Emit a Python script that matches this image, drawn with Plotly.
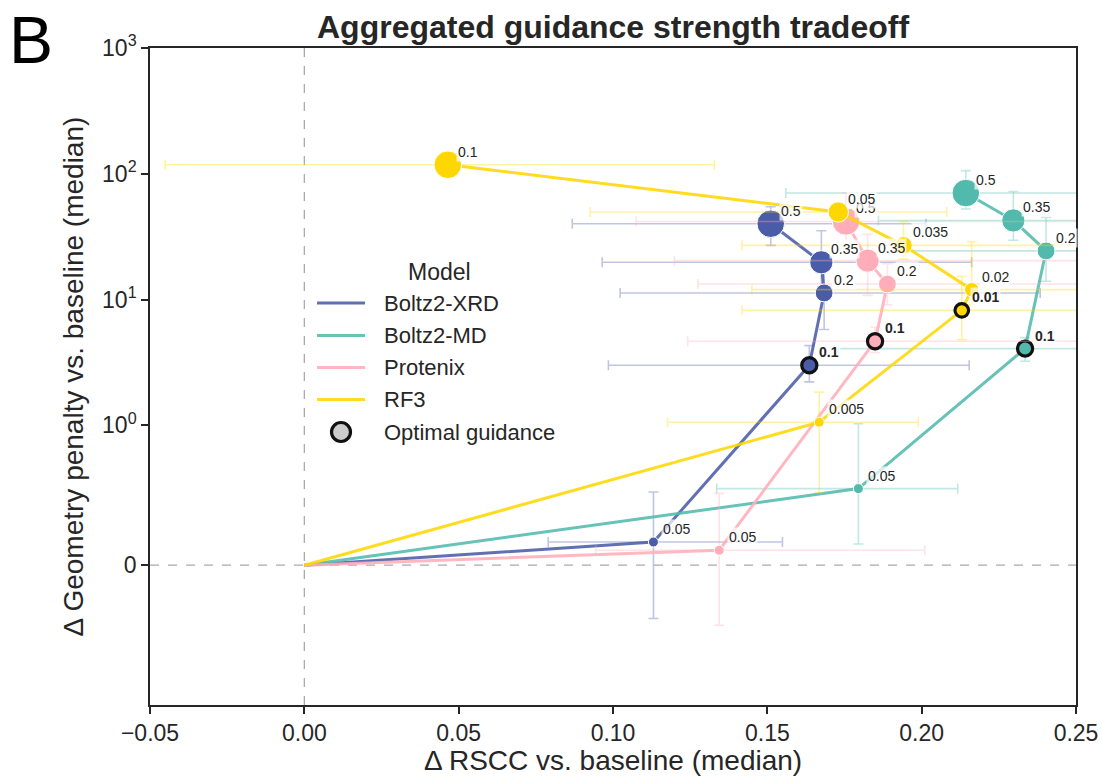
import numpy as np
import plotly.graph_objects as go

# ---------------- data ----------------
models = ["Boltz2-XRD", "Boltz2-MD", "Protenix", "RF3"]

xrd_strength = [0.05, 0.1, 0.2, 0.35, 0.5]
xrd_rscc = [0.1131, 0.1636, 0.1684, 0.1675, 0.1511]
xrd_rscc_lo = [0.0790, 0.0985, 0.1023, 0.0965, 0.0868]
xrd_rscc_hi = [0.1549, 0.2154, 0.2384, 0.2162, 0.2014]
xrd_geom = [0.166, 3.01, 11.3, 19.8, 40.1]
xrd_geom_lo = [-0.381, 2.22, 5.78, 12.0, 27.0]
xrd_geom_hi = [0.524, 4.31, 20.0, 35.3, 54.7]
xrd_optimal = 0.1

md_strength = [0.05, 0.1, 0.2, 0.35, 0.5]
md_rscc = [0.1795, 0.2335, 0.2403, 0.2297, 0.2143]
md_rscc_lo = [0.1336, 0.1730, 0.1946, 0.1860, 0.1560]
md_rscc_hi = [0.2117, 0.2750, 0.2800, 0.2750, 0.2700]
md_geom = [0.548, 4.08, 24.4, 42.6, 70.3]
md_geom_lo = [0.152, 3.24, 14.0, 29.6, 52.5]
md_geom_hi = [1.03, 4.99, 45.0, 72.4, 106.0]
md_optimal = 0.1

ptx_strength = [0.05, 0.1, 0.2, 0.35, 0.5]
ptx_rscc = [0.1344, 0.1849, 0.1889, 0.1825, 0.1755]
ptx_rscc_lo = [0.0944, 0.1242, 0.1275, 0.1199, 0.1075]
ptx_rscc_hi = [0.2010, 0.2700, 0.2700, 0.2700, 0.2700]
ptx_geom = [0.107, 4.67, 13.3, 20.4, 41.8]
ptx_geom_lo = [-0.429, 3.80, 9.1, 10.8, 24.9]
ptx_geom_hi = [0.514, 6.03, 19.3, 33.0, 70.7]
ptx_optimal = 0.1

rf3_strength = [0.005, 0.01, 0.02, 0.035, 0.05, 0.1]
rf3_rscc = [0.1668, 0.2130, 0.2162, 0.1941, 0.1730, 0.0465]
rf3_rscc_lo = [0.1177, 0.1418, 0.1450, 0.1418, 0.0926, -0.0451]
rf3_rscc_hi = [0.1989, 0.2700, 0.2700, 0.2700, 0.2081, 0.1328]
rf3_geom = [1.06, 8.22, 12.0, 27.0, 49.7, 118.0]
rf3_geom_lo = [0.519, 4.81, 9.1, 21.0, 41.6, 110.0]
rf3_geom_hi = [1.84, 15.3, 28.9, 41.8, 58.9, 126.0]
rf3_optimal = 0.01

x_ticks = [-0.05, 0.0, 0.05, 0.10, 0.15, 0.20, 0.25]
x_ticktext = ["\u22120.05", "0.00", "0.05", "0.10", "0.15", "0.20", "0.25"]
y_ticks = [0, 1, 10, 100, 1000]
y_ticktext = ["0", "10<sup>0</sup>", "10<sup>1</sup>", "10<sup>2</sup>", "10<sup>3</sup>"]

# ---------------- styling ----------------
colors = {
    "Boltz2-XRD": (74, 92, 168),
    "Boltz2-MD": (82, 185, 173),
    "Protenix": (255, 174, 185),
    "RF3": (255, 215, 0),
}
FONT = "Liberation Sans, Arial, Helvetica, sans-serif"
TXT = "#262626"

W, H = 1102, 778
L, R, T, B = 150, 1076, 48, 705   # plot area in pixels


def symlog(v):
    v = np.asarray(v, dtype=float)
    c = 1.0 / (1.0 - 0.1)
    a = np.abs(v)
    return np.where(a <= 1.0, v * c, np.sign(v) * (c + np.log10(np.maximum(a, 1e-12))))


def px(xp):
    return (xp - L) / (R - L)


def py(yp):
    return (B - yp) / (B - T)


def rgba(c, a):
    return "rgba(%d,%d,%d,%.3f)" % (c[0], c[1], c[2], a)


fig = go.Figure()

series = [
    ("Boltz2-XRD", xrd_strength, xrd_rscc, xrd_rscc_lo, xrd_rscc_hi, xrd_geom, xrd_geom_lo, xrd_geom_hi, xrd_optimal),
    ("Boltz2-MD", md_strength, md_rscc, md_rscc_lo, md_rscc_hi, md_geom, md_geom_lo, md_geom_hi, md_optimal),
    ("Protenix", ptx_strength, ptx_rscc, ptx_rscc_lo, ptx_rscc_hi, ptx_geom, ptx_geom_lo, ptx_geom_hi, ptx_optimal),
    ("RF3", rf3_strength, rf3_rscc, rf3_rscc_lo, rf3_rscc_hi, rf3_geom, rf3_geom_lo, rf3_geom_hi, rf3_optimal),
]

annotations = []
for name, s, x, xlo, xhi, g, glo, ghi, opt in series:
    c = colors[name]
    s = np.array(s); x = np.array(x); xlo = np.array(xlo); xhi = np.array(xhi)
    ty = symlog(g); tlo = symlog(glo); thi = symlog(ghi)
    # error bars
    fig.add_trace(go.Scatter(
        x=x, y=ty, mode="markers", marker=dict(size=1, opacity=0),
        error_x=dict(type="data", symmetric=False, array=xhi - x, arrayminus=x - xlo,
                     color=rgba(c, 0.35), thickness=1.6, width=5),
        error_y=dict(type="data", symmetric=False, array=thi - ty, arrayminus=ty - tlo,
                     color=rgba(c, 0.35), thickness=1.6, width=5),
        showlegend=False, hoverinfo="skip"))
    # line from origin
    fig.add_trace(go.Scatter(
        x=np.concatenate([[0.0], x]), y=np.concatenate([[0.0], ty]), mode="lines",
        line=dict(color=rgba(c, 0.88), width=3), showlegend=False, hoverinfo="skip"))
    # markers, area scaled with strength within each model
    frac = (s - s.min()) / (s.max() - s.min())
    diam = np.sqrt(100 + frac * (760 - 100))
    is_opt = np.isclose(s, opt)
    fig.add_trace(go.Scatter(
        x=x, y=ty, mode="markers",
        marker=dict(size=np.where(is_opt, diam + 2.0, diam), color=rgba(c, 1.0), opacity=1,
                    line=dict(color=["#111111" if o else "white" for o in is_opt],
                              width=[3.2 if o else 1.0 for o in is_opt])),
        showlegend=False, hoverinfo="skip"))
    for si, xi, yi, o in zip(s, x, ty, is_opt):
        annotations.append(dict(
            x=xi, y=yi, xref="x", yref="y", text=("<b>%s</b>" % str(si)) if o else str(si),
            showarrow=False, xanchor="left", yanchor="middle", xshift=8, yshift=13,
            font=dict(size=14, color=TXT, family=FONT),
            bgcolor="rgba(255,255,255,0.7)", borderpad=1))

# reference lines
shapes = [
    dict(type="line", xref="x", yref="paper", x0=0, x1=0, y0=0, y1=1,
         line=dict(color="#aaaaaa", width=1.3, dash="dash"), layer="below"),
    dict(type="line", xref="paper", yref="y", x0=0, x1=1, y0=0, y1=0,
         line=dict(color="#aaaaaa", width=1.3, dash="dash"), layer="below"),
]

# manual legend
annotations.append(dict(x=px(439), y=py(272), xref="paper", yref="paper", text="Model",
                        showarrow=False, xanchor="center", yanchor="middle",
                        font=dict(size=23, color=TXT, family=FONT)))
leg_y = [303, 335.5, 367.5, 399.5]
for name, yy in zip(models, leg_y):
    shapes.append(dict(type="line", xref="paper", yref="paper", x0=px(317), x1=px(365),
                       y0=py(yy), y1=py(yy), line=dict(color=rgba(colors[name], 0.88), width=3)))
    annotations.append(dict(x=px(382), y=py(yy), xref="paper", yref="paper", text=name,
                            showarrow=False, xanchor="left", yanchor="middle",
                            font=dict(size=22, color=TXT, family=FONT)))
shapes.append(dict(type="circle", xref="paper", yref="paper",
                   x0=px(341 - 9.5), x1=px(341 + 9.5), y0=py(432 + 9.5), y1=py(432 - 9.5),
                   fillcolor="#cccccc", line=dict(color="#111111", width=3.2)))
annotations.append(dict(x=px(382), y=py(432), xref="paper", yref="paper", text="Optimal guidance",
                        showarrow=False, xanchor="left", yanchor="middle",
                        font=dict(size=22, color=TXT, family=FONT)))

# titles
annotations.append(dict(x=px(613), y=py(27), xref="paper", yref="paper",
                        text="<b>Aggregated guidance strength tradeoff</b>", showarrow=False,
                        xanchor="center", yanchor="middle", font=dict(size=32, color=TXT, family=FONT)))
annotations.append(dict(x=px(613), y=py(760), xref="paper", yref="paper",
                        text="\u0394 RSCC vs. baseline (median)", showarrow=False,
                        xanchor="center", yanchor="middle", font=dict(size=28, color=TXT, family=FONT)))
annotations.append(dict(x=px(73), y=py(376.5), xref="paper", yref="paper",
                        text="\u0394 Geometry penalty vs. baseline (median)", showarrow=False,
                        textangle=-90, xanchor="center", yanchor="middle",
                        font=dict(size=28, color=TXT, family=FONT)))
annotations.append(dict(x=px(7), y=py(40), xref="paper", yref="paper", text="B",
                        showarrow=False, xanchor="left", yanchor="middle",
                        font=dict(size=66, color="#000000", family=FONT)))

axis_common = dict(showline=True, linecolor=TXT, linewidth=1.6, mirror=True,
                   ticks="outside", ticklen=7, tickwidth=1.5, tickcolor=TXT,
                   showgrid=False, zeroline=False, automargin=False,
                   tickfont=dict(size=23, color=TXT, family=FONT))

fig.update_layout(
    width=W, height=H,
    margin=dict(l=L, r=W - R, t=T, b=H - B, autoexpand=False),
    paper_bgcolor="white", plot_bgcolor="white",
    xaxis=dict(range=[-0.05, 0.25], tickvals=x_ticks, ticktext=x_ticktext, **axis_common),
    yaxis=dict(range=[float(symlog(-1)), float(symlog(1000))], tickvals=list(symlog(y_ticks)),
               ticktext=y_ticktext, **axis_common),
    shapes=shapes, annotations=annotations, showlegend=False,
    font=dict(family=FONT, color=TXT),
)

fig.write_html("out.html")
